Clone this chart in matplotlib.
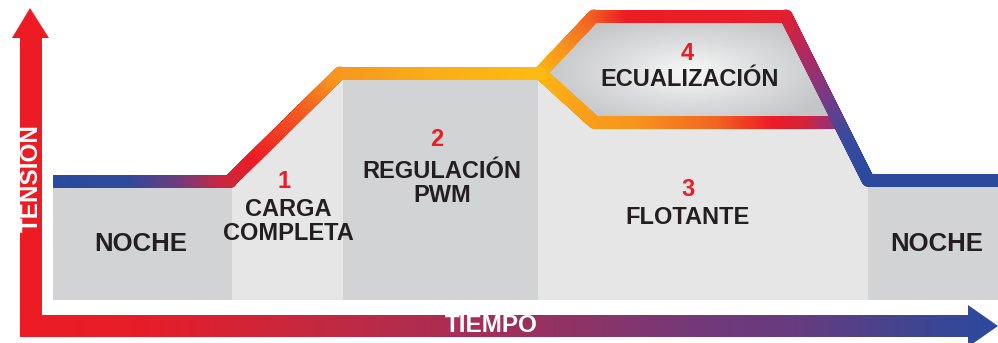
import numpy as np
import matplotlib
matplotlib.use("Agg")
import matplotlib.pyplot as plt
from matplotlib.collections import LineCollection
from matplotlib.patches import Polygon, Rectangle
from matplotlib.colors import LinearSegmentedColormap, to_rgb

# ---------------- data (diagram coordinates, pixel-like units) ----------------
W, H = 998, 343
stage_edges = [53, 232, 343, 538, 868, 998]          # x boundaries of stages
stage_fill = ["#D2D3D5", "#E6E6E7", "#D2D3D5", "#E6E6E7", "#D2D3D5"]
box_bottom = 300

# tension profile (centre lines of the coloured band)
main_x = [53, 230, 340, 540]
main_y = [181, 181, 73, 73]
upper_x = [540, 594, 786, 868, 998]
upper_y = [73, 16, 16, 180, 180]
lower_x = [540, 594, 839]
lower_y = [73, 122, 122]

# colour stops along each band (distance along path, colour)
main_stops = [(0, "#2B4A9E"), (80, "#2E4A9C"), (130, "#6F3B7E"), (171, "#C62842"),
              (215, "#ED1C24"), (290, "#F26522"), (325, "#F7941D"), (430, "#FBAE17"), (525, "#FDBA12")]
upper_stops = [(0, "#FDBA12"), (40, "#F7941D"), (78, "#F26522"), (115, "#ED1C24"),
               (270, "#E81E2C"), (310, "#B8285A"), (365, "#7A3A85"), (410, "#3B4A9E"),
               (455, "#2B4A9E"), (600, "#2B4A9E")]
lower_stops = [(0, "#FDBA12"), (60, "#F9A01B"), (120, "#F7941D"), (200, "#F26522"),
               (255, "#ED1C24"), (290, "#D2243E"), (318, "#8E3380")]

axis_stops_x = [20, 150, 300, 500, 700, 800, 900, 997]
axis_stops_c = ["#ED1C24", "#E61E2A", "#C8283F", "#A0305A", "#73397A", "#653C80", "#45448F", "#2B4A9E"]

labels = [
    ("NOCHE", 141, 244, "#231F20", 18.5),
    ("1", 284, 181, "#ED1C24", 17),
    ("CARGA", 288, 210, "#231F20", 17),
    ("COMPLETA", 288, 233, "#231F20", 17),
    ("2", 437, 140, "#ED1C24", 17),
    ("REGULACIÓN", 442, 171, "#231F20", 17),
    ("PWM", 442, 196, "#231F20", 17),
    ("4", 687, 53, "#ED1C24", 17),
    ("ECUALIZACIÓN", 690, 80, "#231F20", 17),
    ("3", 688, 190, "#ED1C24", 17),
    ("FLOTANTE", 688, 218, "#231F20", 17),
    ("NOCHE", 937, 244, "#231F20", 18.5),
]

FONT = "Liberation Sans"

# ---------------- figure ----------------
fig = plt.figure(figsize=(W / 100, H / 100), dpi=100)
ax = fig.add_axes([0, 0, 1, 1])
ax.set_xlim(0, W)
ax.set_ylim(H, 0)
ax.axis("off")


def band_top(x):
    """y of the lowest visible band at x (top of the gray boxes)."""
    xs = [53, 230, 340, 540, 594, 839, 868, 998]
    ys = [181, 181, 73, 73, 122, 122, 180, 180]
    return np.interp(x, xs, ys)


# gray stage boxes, top following the band
for i in range(len(stage_fill)):
    x0, x1 = stage_edges[i], stage_edges[i + 1]
    xs = np.linspace(x0, x1, 200)
    ys = band_top(xs)
    pts = list(zip(xs, ys)) + [(x1, box_bottom), (x0, box_bottom)]
    ax.add_patch(Polygon(pts, closed=True, facecolor=stage_fill[i], edgecolor="none", zorder=1))

# equalization area with radial gradient
eq_poly = Polygon(list(zip(upper_x[:4], upper_y[:4])) + [(lower_x[2], lower_y[2]), (lower_x[1], lower_y[1])],
                  closed=True, facecolor="none", edgecolor="none")
ax.add_patch(eq_poly)
gx, gy = np.meshgrid(np.linspace(530, 880, 300), np.linspace(10, 130, 120))
r = np.sqrt(((gx - 690) / 150) ** 2 + ((gy - 72) / 60) ** 2)
cmap_eq = LinearSegmentedColormap.from_list("eq", ["#F8F8F8", "#DCDDDE", "#C4C5C7"])
im = ax.imshow(np.clip(r, 0, 1), extent=[530, 880, 130, 10], cmap=cmap_eq, vmin=0, vmax=1,
               aspect="auto", zorder=2, interpolation="bilinear")
im.set_clip_path(eq_poly)


def gradient_band(xs, ys, stops, lw_px=13, z=4):
    xs = np.asarray(xs, float)
    ys = np.asarray(ys, float)
    seg_len = np.hypot(np.diff(xs), np.diff(ys))
    cum = np.concatenate([[0], np.cumsum(seg_len)])
    s = np.linspace(0, cum[-1], 1200)
    px = np.interp(s, cum, xs)
    py = np.interp(s, cum, ys)
    sd = [a for a, _ in stops]
    rgb = np.array([to_rgb(c) for _, c in stops])
    sm = 0.5 * (s[:-1] + s[1:])
    cols = np.stack([np.interp(sm, sd, rgb[:, k]) for k in range(3)], axis=1)
    pts = np.stack([px, py], axis=1)
    segs = np.stack([pts[:-1], pts[1:]], axis=1)
    lc = LineCollection(segs, colors=cols, linewidths=lw_px * 0.72, capstyle="round",
                        joinstyle="round", zorder=z)
    ax.add_collection(lc)


gradient_band(lower_x, lower_y, lower_stops, z=4)
gradient_band(upper_x, upper_y, upper_stops, z=5)
gradient_band(main_x, main_y, main_stops, z=6)
# square off left start of band
ax.add_patch(Rectangle((53, 174.5), 8, 13, facecolor="#2B4A9E", edgecolor="none", zorder=7))
ax.add_patch(Rectangle((40, 170), 13, 25, facecolor="white", edgecolor="none", zorder=7))

# horizontal axis arrow with gradient
h_arrow = Polygon([(20, 315), (968, 315), (968, 305), (998, 326), (968, 347), (968, 337), (20, 337)],
                  closed=True, facecolor="none", edgecolor="none")
ax.add_patch(h_arrow)
xx = np.linspace(0, W, 1000)
rgb = np.array([to_rgb(c) for c in axis_stops_c])
row = np.stack([np.interp(xx, axis_stops_x, rgb[:, k]) for k in range(3)], axis=1)
img = np.tile(row[None, :, :], (10, 1, 1))
im2 = ax.imshow(img, extent=[0, W, 350, 300], aspect="auto", zorder=8, interpolation="bilinear")
im2.set_clip_path(h_arrow)

# vertical axis arrow (solid red)
ax.add_patch(Polygon([(20, 337), (20, 38), (12, 38), (30, 8), (49, 38), (42, 38), (42, 337)],
                     closed=True, facecolor="#ED1C24", edgecolor="none", zorder=9))

# axis titles
ax.text(31, 178, "TENSION", rotation=90, ha="center", va="center", color="white",
        fontsize=17.5, fontweight="bold", family=FONT, zorder=10)
ax.text(491, 326, "TIEMPO", ha="center", va="center", color="white",
        fontsize=17.5, fontweight="bold", family=FONT, zorder=10)

# stage labels
for txt, x, y, c, fs in labels:
    ax.text(x, y, txt, ha="center", va="center", color=c, fontsize=fs,
            fontweight="bold", family=FONT, zorder=10)

fig.savefig("out.png", dpi=100)
